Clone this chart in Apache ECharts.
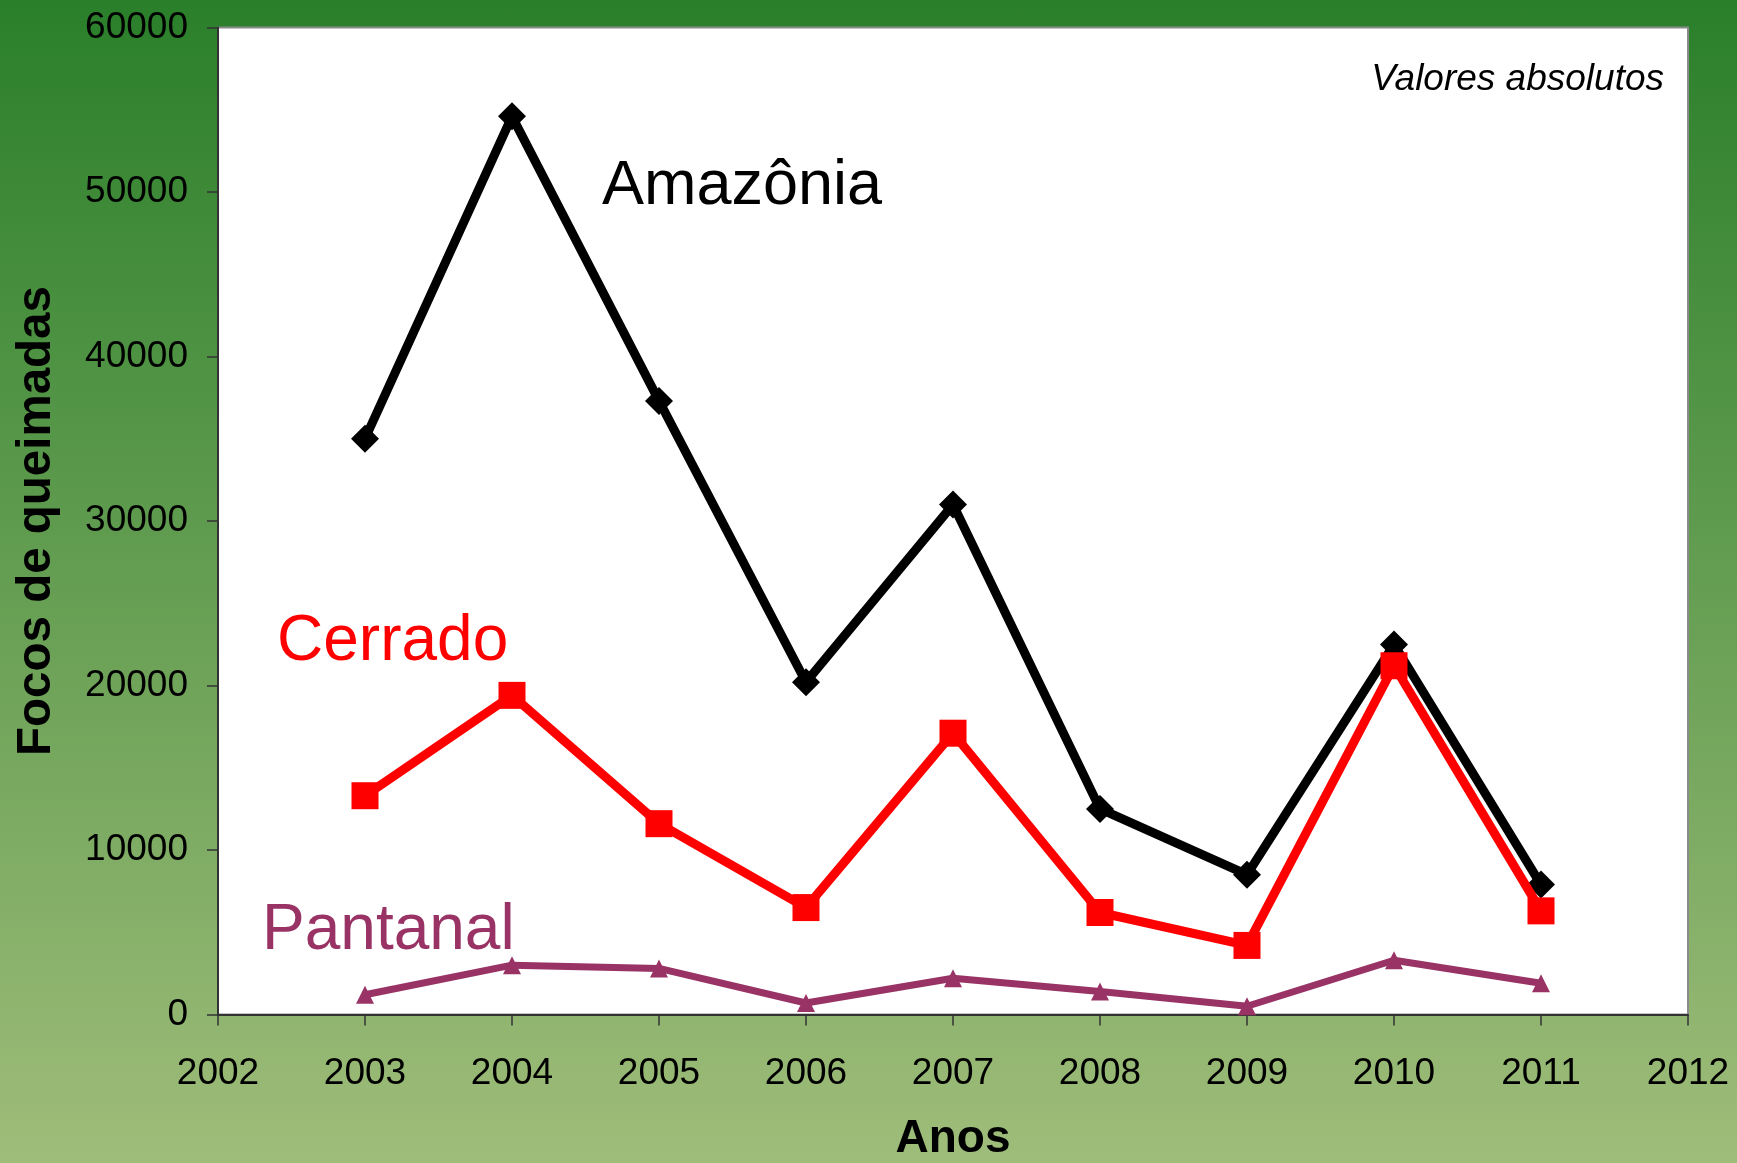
<!DOCTYPE html>
<html>
<head>
    <meta charset="UTF-8">
    <title>Focos de queimadas</title>
    <script src="https://cdn.jsdelivr.net/npm/echarts@6/dist/echarts.min.js"></script>
    <style>
        html, body { margin: 0; padding: 0; }
        body {
            width: 1737px; height: 1163px;
            background: linear-gradient(to bottom, #2a7f2a 0%, #9fbd7a 100%);
        }
        #chart { width: 1737px; height: 1163px; }
    </style>
</head>
<body>
	<div id="chart"></div>

	<script type="text/javascript">
		// dados
		var anos = [2003, 2004, 2005, 2006, 2007, 2008, 2009, 2010, 2011];
		var amazonia = [35000, 54600, 37300, 20200, 31000, 12500, 8500, 22500, 7900];
		var cerrado = [13300, 19400, 11600, 6500, 17100, 6200, 4200, 21200, 6300];
		var pantanal = [1200, 3000, 2800, 700, 2200, 1400, 500, 3300, 1900];

		function pares(valores) {
			var out = [];
			for (var i = 0; i < anos.length; i++) {
				out.push([anos[i], valores[i]]);
			}
			return out;
		}

		var fonte = '"Liberation Sans", Arial, sans-serif';
		var myChart = echarts.init(document.getElementById('chart'));
		var option = {
			backgroundColor: 'transparent',
			animation: false,
			grid: {
				left: 218,
				right: 49,
				top: 27.5,
				bottom: 148.5,
				containLabel: false,
				outerBoundsMode: 'none',
				show: true,
				backgroundColor: '#ffffff',
				borderColor: '#8a8a8a',
				borderWidth: 2
			},
			xAxis: {
				type: 'value',
				min: 2002,
				max: 2012,
				interval: 1,
				name: 'Anos',
				nameLocation: 'middle',
				nameGap: 102,
				nameTextStyle: { fontFamily: fonte, fontSize: 46, fontWeight: 'bold', color: '#000' },
				axisLine: { lineStyle: { color: '#333', width: 2 } },
				axisTick: { show: true, inside: false, length: 11, lineStyle: { color: '#333', width: 1.5 } },
				axisLabel: {
					fontFamily: fonte, fontSize: 37, color: '#000', margin: 41,
					formatter: function (v) { return String(v); }
				},
				splitLine: { show: false }
			},
			yAxis: {
				type: 'value',
				min: 0,
				max: 60000,
				interval: 10000,
				name: 'Focos de queimadas',
				nameLocation: 'middle',
				nameGap: 157,
				nameTextStyle: { fontFamily: fonte, fontSize: 47.5, fontWeight: 'bold', color: '#000' },
				axisLine: { show: true, lineStyle: { color: '#333', width: 2 } },
				axisTick: { show: true, inside: false, length: 11, lineStyle: { color: '#333', width: 1.5 } },
				axisLabel: {
					fontFamily: fonte, fontSize: 37, color: '#000', margin: 30,
					formatter: function (v) { return String(v); }
				},
				splitLine: { show: false }
			},
			series: [
				{
					name: 'Pantanal',
					type: 'line',
					data: pares(pantanal),
					symbol: 'triangle',
					symbolSize: 18,
					lineStyle: { color: '#993366', width: 7 },
					itemStyle: { color: '#993366' },
					z: 2
				},
				{
					name: 'Amazônia',
					type: 'line',
					data: pares(amazonia),
					symbol: 'diamond',
					symbolSize: 28,
					lineStyle: { color: '#000000', width: 9 },
					itemStyle: { color: '#000000' },
					z: 3
				},
				{
					name: 'Cerrado',
					type: 'line',
					data: pares(cerrado),
					symbol: 'rect',
					symbolSize: 27,
					lineStyle: { color: '#ff0000', width: 9 },
					itemStyle: { color: '#ff0000' },
					z: 4
				}
			],
			graphic: [
				{
					type: 'text', left: 602, top: 187 - 32,
					style: { text: 'Amazônia', fontFamily: fonte, fontSize: 63, fill: '#000' }
				},
				{
					type: 'text', left: 277, top: 642 - 32,
					style: { text: 'Cerrado', fontFamily: fonte, fontSize: 64, fill: '#ff0000' }
				},
				{
					type: 'text', left: 262, top: 931 - 32,
					style: { text: 'Pantanal', fontFamily: fonte, fontSize: 64, fill: '#993366' }
				},
				{
					type: 'text', right: 1737 - 1664, top: 80 - 19,
					style: { text: 'Valores absolutos', fontFamily: fonte, fontSize: 37, fontStyle: 'italic', fill: '#000' }
				}
			]
		};
		myChart.setOption(option);
	</script>
</body>
</html>
